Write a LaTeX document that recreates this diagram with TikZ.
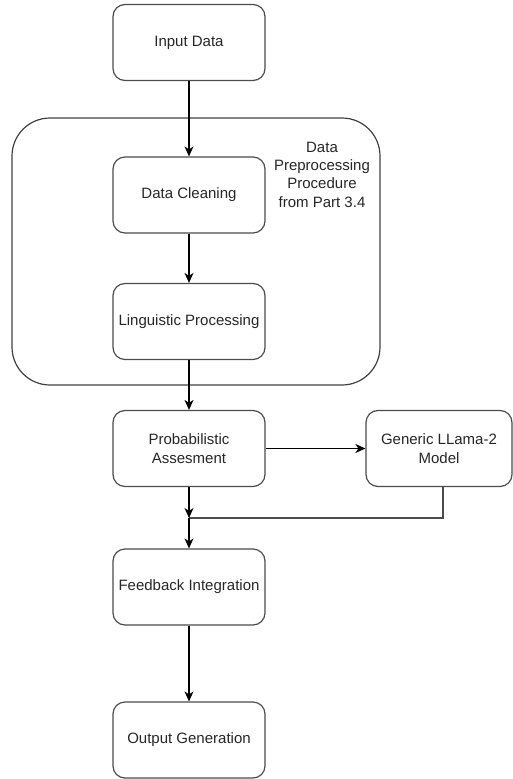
\documentclass[tikz,border=0pt]{standalone}
\usepackage{fontspec}
\setmainfont{Liberation Sans}
\usetikzlibrary{arrows.meta}
\begin{document}
\begin{tikzpicture}[x=1pt,y=-1pt,
  every node/.style={font=\fontsize{15}{18.3}\selectfont, text=black!85},
  stepbox/.style={draw=black!70, line width=1.2pt, rounded corners=12pt,
    minimum width=152pt, minimum height=76pt, align=center, inner sep=0pt},
  flow/.style={draw=black, line width=1.2pt,
    -{Stealth[length=10pt,width=9pt,inset=3pt]}},
  plain/.style={draw=black!70, line width=1.2pt}]
\useasboundingbox (0,0) rectangle (513,779);

% outer group for the preprocessing stage
\draw[draw=black!75, line width=1.2pt, rounded corners=38pt] (12,118) rectangle (380,385);
\node[align=center] (grouplbl) at (322,174.5) {Data\\Preprocessing\\Procedure\\from Part 3.4};

% process steps
\node[stepbox] (input) at (189,42.5) {Input Data};
\node[stepbox] (clean) at (189,195) {Data Cleaning};
\node[stepbox] (ling)  at (189,321.5) {Linguistic Processing};
\node[stepbox] (prob)  at (189,448.5) {Probabilistic\\Assesment};
\node[stepbox, minimum width=146pt] (gen) at (439,448.5) {Generic LLama-2\\Model};
\node[stepbox] (feed)  at (189,587) {Feedback Integration};
\node[stepbox] (out)   at (189,740) {Output Generation};

\coordinate (join) at (189,518);

% connectors
\draw[flow] (input) -- (clean);
\draw[flow] (clean) -- (ling);
\draw[flow] (ling) -- (prob);
\draw[flow] (prob) -- (gen);
\draw[flow] (prob) -- (join);
\draw[plain] ([xshift=4pt]gen.south) |- (join);
\draw[flow] (join) -- (feed);
\draw[flow] (feed) -- (out);
\end{tikzpicture}
\end{document}
